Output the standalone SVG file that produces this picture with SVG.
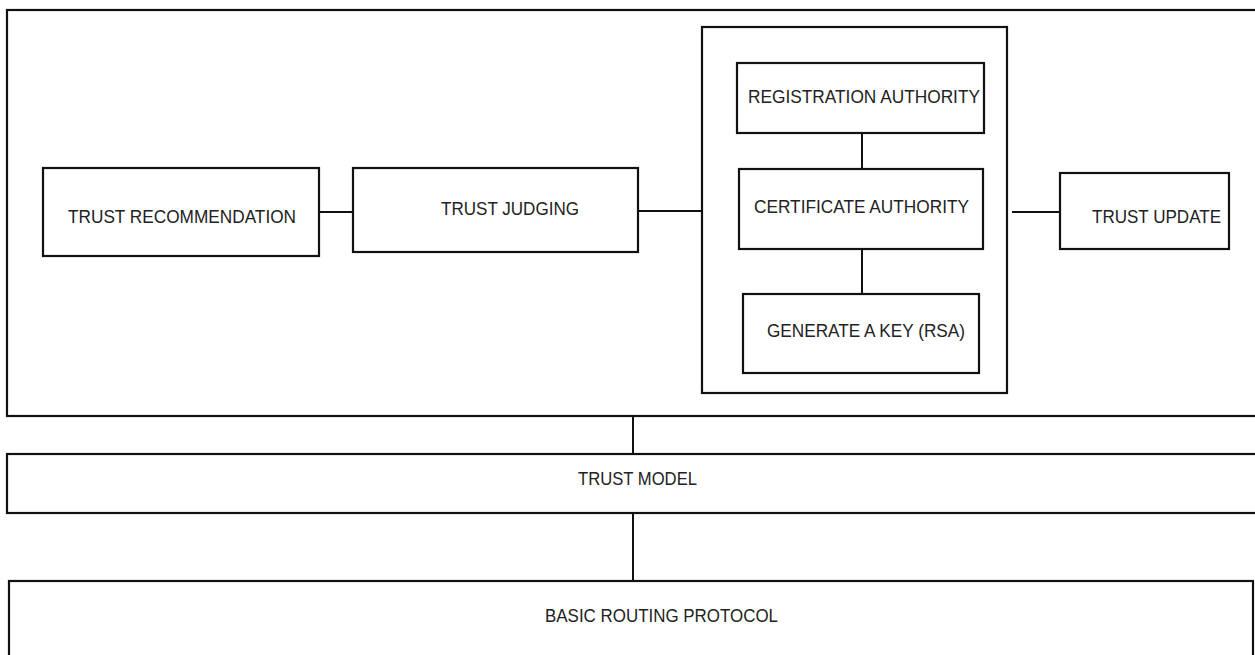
<svg xmlns="http://www.w3.org/2000/svg" width="1255" height="655" viewBox="0 0 1255 655">
  <style>
    .box { fill: #ffffff; stroke: #111111; stroke-width: 2.2; }
    .frame { fill: none; stroke: #111111; stroke-width: 2.2; }
    .link { stroke: #111111; stroke-width: 2; fill: none; }
    .lbl { font-family: "Liberation Sans", "DejaVu Sans", sans-serif; font-size: 18px; fill: #222222; }
  </style>
  <rect width="1255" height="655" fill="#ffffff"/>

  <!-- outer trust framework container -->
  <g id="framework">
    <rect class="frame" x="7" y="10" width="1260" height="406"/>
  </g>

  <!-- PKI group container -->
  <g id="pki">
    <rect class="frame" x="702" y="27" width="305" height="366"/>
  </g>

  <!-- connectors -->
  <g id="connectors">
    <line class="link" x1="319" y1="212" x2="353" y2="212"/>
    <line class="link" x1="638" y1="211" x2="702" y2="211"/>
    <line class="link" x1="862" y1="133" x2="862" y2="169"/>
    <line class="link" x1="862" y1="249" x2="862" y2="294"/>
    <line class="link" x1="1012" y1="212" x2="1060" y2="212"/>
    <line class="link" x1="633" y1="416" x2="633" y2="454"/>
    <line class="link" x1="633" y1="513" x2="633" y2="581"/>
  </g>

  <g id="trust-recommendation">
    <rect class="box" x="43" y="168" width="276" height="88"/>
    <text class="lbl" x="68" y="223" textLength="228" lengthAdjust="spacingAndGlyphs">TRUST RECOMMENDATION</text>
  </g>

  <g id="trust-judging">
    <rect class="box" x="353" y="168" width="285" height="84"/>
    <text class="lbl" x="441" y="215" textLength="138" lengthAdjust="spacingAndGlyphs">TRUST JUDGING</text>
  </g>

  <g id="registration-authority">
    <rect class="box" x="737" y="63" width="247" height="70"/>
    <text class="lbl" x="748" y="103" textLength="232" lengthAdjust="spacingAndGlyphs">REGISTRATION AUTHORITY</text>
  </g>

  <g id="certificate-authority">
    <rect class="box" x="739" y="169" width="244" height="80"/>
    <text class="lbl" x="754" y="213" textLength="215" lengthAdjust="spacingAndGlyphs">CERTIFICATE AUTHORITY</text>
  </g>

  <g id="generate-key">
    <rect class="box" x="743" y="294" width="236" height="79"/>
    <text class="lbl" x="767" y="337" textLength="198" lengthAdjust="spacingAndGlyphs">GENERATE A KEY (RSA)</text>
  </g>

  <g id="trust-update">
    <rect class="box" x="1060" y="173" width="169" height="76"/>
    <text class="lbl" x="1092" y="223" textLength="129" lengthAdjust="spacingAndGlyphs">TRUST UPDATE</text>
  </g>

  <g id="trust-model">
    <rect class="frame" x="7" y="454" width="1260" height="59"/>
    <text class="lbl" x="578" y="485" textLength="119" lengthAdjust="spacingAndGlyphs">TRUST MODEL</text>
  </g>

  <g id="basic-routing-protocol">
    <rect class="frame" x="9" y="581" width="1244" height="90"/>
    <text class="lbl" x="545" y="622" textLength="233" lengthAdjust="spacingAndGlyphs">BASIC ROUTING PROTOCOL</text>
  </g>
</svg>
